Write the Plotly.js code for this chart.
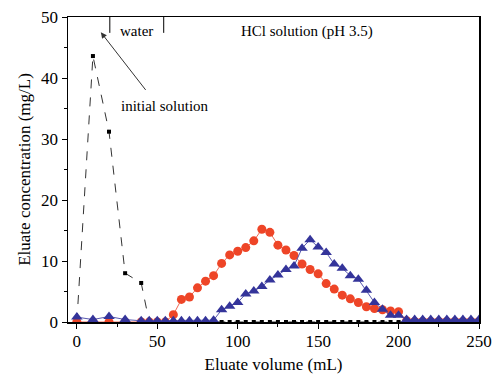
<!DOCTYPE html>
<html>
<head>
<meta charset="utf-8">
<script src="https://cdn.plot.ly/plotly-3.0.1.min.js"></script>
<style>html,body{margin:0;padding:0;background:#fff;}#chart{width:501px;height:385px;}</style>
</head>
<body>
<div id="chart"></div>
<script>
// Initial solution (black squares)
const blackX = [0, 10, 20, 30, 40, 45, 50, 55, 60, 65, 70, 75, 80, 85, 90, 95, 100, 105, 110, 115, 120, 125, 130, 135, 140, 145, 150, 155, 160, 165, 170, 175, 180, 185, 190, 195, 200, 205, 210, 215, 220, 225, 230, 235, 240, 245, 250];
const blackY = [0, 43.6, 31.2, 8.0, 6.4, 0, 0, 0, 0, 0, 0, 0, 0, 0, 0, 0, 0, 0, 0, 0, 0, 0, 0, 0, 0, 0, 0, 0, 0, 0, 0, 0, 0, 0, 0, 0, 0, 0, 0, 0, 0, 0, 0, 0, 0, 0, 0];
// Red circles
const redX = [0, 10, 20, 30, 40, 45, 50, 55, 60, 65, 70, 75, 80, 85, 90, 95, 100, 105, 110, 115, 120, 125, 130, 135, 140, 145, 150, 155, 160, 165, 170, 175, 180, 185, 190, 195, 200, 205, 210, 215, 220, 225, 230, 235, 240, 245, 250];
const redY = [0, 0, 0, 0, 0, 0, 0, 0, 1.2, 3.7, 4.1, 5.6, 6.7, 7.6, 9.6, 11.0, 11.6, 12.2, 13.3, 15.2, 14.7, 12.6, 11.8, 10.9, 9.5, 8.6, 7.9, 6.3, 5.4, 4.4, 3.8, 3.2, 2.5, 2.2, 2.0, 1.8, 1.7, 0.2, 0.1, 0.1, 0.1, 0.1, 0.1, 0.1, 0.1, 0.1, 0.1];
// Blue triangles
const blueX = [0, 10, 20, 30, 40, 45, 50, 55, 60, 65, 70, 75, 80, 85, 90, 95, 100, 105, 110, 115, 120, 125, 130, 135, 140, 145, 150, 155, 160, 165, 170, 175, 180, 185, 190, 195, 200, 205, 210, 215, 220, 225, 230, 235, 240, 245, 250];
const blueY = [0.8, 0.4, 0.9, 0.4, 0.2, 0.2, 0.2, 0.2, 0.2, 0.2, 0.2, 0.2, 0.2, 0.3, 2.0, 2.6, 3.2, 4.6, 5.1, 5.8, 6.9, 7.7, 8.6, 9.2, 12.1, 13.5, 12.3, 11.4, 9.5, 8.8, 7.6, 7.0, 5.2, 3.2, 2.1, 1.1, 1.1, 0.4, 0.4, 0.4, 0.4, 0.4, 0.4, 0.4, 0.4, 0.4, 0.4];
const xTicks = [0, 50, 100, 150, 200, 250];
const yTicks = [0, 10, 20, 30, 40, 50];

const FAM = 'Liberation Serif, Times New Roman, DejaVu Serif, serif';
function f(size) { return {family: FAM, size: size, color: '#000'}; }

const traces = [
  {x: blackX, y: blackY, mode: 'lines+markers', type: 'scatter',
   line: {color: '#333', width: 1, dash: 'dash'},
   marker: {symbol: 'square', size: 4, color: '#000'}},
  {x: redX, y: redY, mode: 'lines+markers', type: 'scatter',
   line: {color: '#f06a55', width: 1},
   marker: {symbol: 'circle', size: 9, color: '#ee4527'}},
  {x: blueX, y: blueY, mode: 'lines+markers', type: 'scatter',
   line: {color: '#5a5ab0', width: 1},
   marker: {symbol: 'triangle-up', size: 10, color: '#34349a'}}
];

const layout = {
  width: 501, height: 385,
  margin: {l: 68, r: 22, t: 17, b: 63},
  paper_bgcolor: '#fff', plot_bgcolor: '#fff',
  showlegend: false,
  font: f(14),
  xaxis: {
    range: [-5.5, 250], tickvals: xTicks, ticktext: xTicks.map(String),
    ticks: 'outside', ticklen: 5, tickwidth: 1, tickcolor: '#000',
    minor: {dtick: 25, tick0: 0, ticks: 'outside', ticklen: 3, tickcolor: '#000'},
    showline: true, linecolor: '#000', linewidth: 1.5, mirror: true,
    showgrid: false, zeroline: false,
    ticklabelstandoff: -2,
    tickfont: f(17),
    title: {text: 'Eluate volume (mL)', font: f(17), standoff: 8}
  },
  yaxis: {
    range: [0, 50], tickvals: yTicks, ticktext: yTicks.map(String),
    ticks: 'outside', ticklen: 5, tickwidth: 1, tickcolor: '#000',
    minor: {dtick: 5, tick0: 0, ticks: 'outside', ticklen: 3, tickcolor: '#000'},
    showline: true, linecolor: '#000', linewidth: 1.5, mirror: true,
    showgrid: false, zeroline: false,
    tickfont: f(17),
    title: {text: 'Eluate concentration (mg/L)', font: f(17), standoff: 6}
  },
  shapes: [
    {type: 'line', xref: 'x', yref: 'paper', x0: 20.5, x1: 20.5, y0: 0.948, y1: 1, line: {color: '#000', width: 1}},
    {type: 'line', xref: 'x', yref: 'paper', x0: 54, x1: 54, y0: 0.948, y1: 1, line: {color: '#000', width: 1}}
  ],
  annotations: [
    {x: 37, y: 47.7, xref: 'x', yref: 'y', text: 'water', showarrow: false, xanchor: 'center', yanchor: 'middle', font: f(15)},
    {x: 101, y: 47.7, xref: 'x', yref: 'y', text: 'HCl solution (pH 3.5)', showarrow: false, xanchor: 'left', yanchor: 'middle', font: f(15)},
    {x: 26, y: 35.4, xref: 'x', yref: 'y', text: 'initial solution', showarrow: false, xanchor: 'left', yanchor: 'middle', font: f(15)},
    {x: 14.9, y: 47.5, xref: 'x', yref: 'y', ax: 43.5, ay: 37.8, axref: 'x', ayref: 'y', text: '', showarrow: true, arrowhead: 2, arrowsize: 1.2, arrowwidth: 1, arrowcolor: '#333'}
  ]
};

Plotly.newPlot('chart', traces, layout, {displayModeBar: false, staticPlot: true});
</script>
</body>
</html>
